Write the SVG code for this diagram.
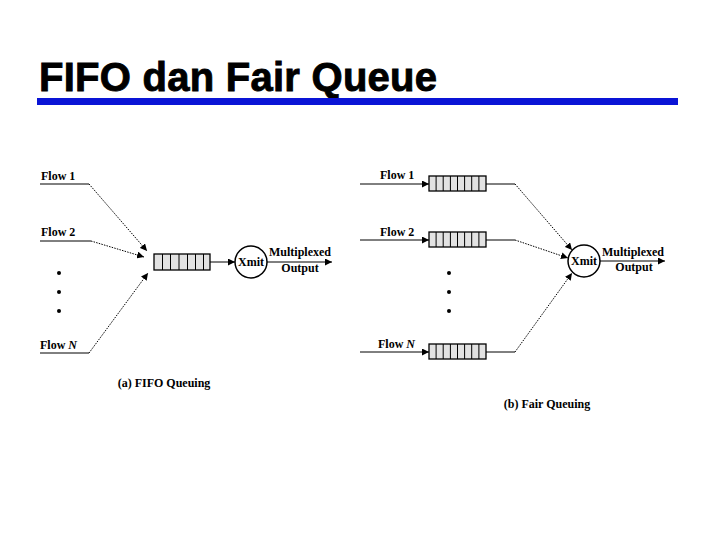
<svg xmlns="http://www.w3.org/2000/svg" width="720" height="540" viewBox="0 0 720 540">
<defs>
<marker id="ah" viewBox="0 0 10 10" refX="10" refY="5" markerWidth="7" markerHeight="7" markerUnits="userSpaceOnUse" orient="auto">
<path d="M0,0 L10,5 L0,10 z" fill="#000"/>
</marker>
<style>
.t{font-family:"Liberation Serif","Times New Roman",serif;font-weight:bold;font-size:12px;fill:#000}
.ln{fill:none;stroke:#000;stroke-width:1}
.dl{fill:none;stroke:#000;stroke-width:1;stroke-dasharray:1.5 1.2}
.q{fill:#e2e2e2;stroke:#000;stroke-width:1.3}
.cell{stroke:#000;stroke-width:1}
.xm{fill:#fff;stroke:#000;stroke-width:1.5}
</style>
</defs>
<rect width="720" height="540" fill="#fff"/>
<g id="title">
<text x="39" y="91" font-family="'Liberation Sans',Arial,sans-serif" font-weight="bold" font-size="40" fill="#000" stroke="#000" stroke-width="0.9" textLength="398" lengthAdjust="spacing">FIFO dan Fair Queue</text>
<rect x="37" y="98" width="641" height="7" fill="#0a14d6"/>
</g>

<!-- (a) FIFO -->
<g id="a-labels">
<text class="t" x="41" y="180">Flow 1</text>
<text class="t" x="41" y="236">Flow 2</text>
<text class="t" x="40" y="349">Flow <tspan font-style="italic">N</tspan></text>
<circle cx="59" cy="273" r="2"/>
<circle cx="59" cy="292" r="2"/>
<circle cx="59" cy="311" r="2"/>
<text class="t" x="164" y="387" text-anchor="middle">(a) FIFO Queuing</text>
</g>
<g id="a-queue">
<rect class="q" x="154" y="254" width="56" height="16"/>
<line class="cell" x1="162.5" y1="254" x2="162.5" y2="270"/>
<line class="cell" x1="170.5" y1="254" x2="170.5" y2="270"/>
<line class="cell" x1="179" y1="254" x2="179" y2="270"/>
<line class="cell" x1="187.5" y1="254" x2="187.5" y2="270"/>
<line class="cell" x1="195.5" y1="254" x2="195.5" y2="270"/>
<line class="cell" x1="203.5" y1="254" x2="203.5" y2="270"/>
</g>
<g id="a-xmit">
<circle class="xm" cx="251" cy="262" r="16"/>
<text class="t" x="251" y="266" text-anchor="middle">Xmit</text>
<text class="t" x="300" y="256" text-anchor="middle">Multiplexed</text>
<text class="t" x="300" y="272" text-anchor="middle">Output</text>
</g>
<g id="a-connectors">
<polyline class="ln" points="40,184 89,184"/>
<polyline class="dl" points="89,184 147,251" marker-end="url(#ah)"/>
<polyline class="ln" points="40,241 91,241"/>
<polyline class="dl" points="91,241 144,257" marker-end="url(#ah)"/>
<polyline class="ln" points="40,353 89,353"/>
<polyline class="dl" points="89,353 148,273" marker-end="url(#ah)"/>
<line class="ln" x1="210" y1="262" x2="235" y2="262" marker-end="url(#ah)"/>
<line class="ln" x1="267" y1="262" x2="332" y2="262" marker-end="url(#ah)"/>
</g>

<!-- (b) Fair -->
<g id="b-labels">
<text class="t" x="380" y="179">Flow 1</text>
<text class="t" x="380" y="236">Flow 2</text>
<text class="t" x="378" y="348">Flow <tspan font-style="italic">N</tspan></text>
<circle cx="449" cy="273" r="2"/>
<circle cx="449" cy="292" r="2"/>
<circle cx="449" cy="311" r="2"/>
<text class="t" x="547" y="408" text-anchor="middle">(b) Fair Queuing</text>
</g>
<g id="b-queue1">
<rect class="q" x="429" y="176" width="57" height="15"/>
<path class="cell" d="M436.1,176v15M443.2,176v15M450.4,176v15M457.5,176v15M464.6,176v15M471.7,176v15M478.9,176v15"/>
</g>
<g id="b-queue2">
<rect class="q" x="429" y="232" width="57" height="15"/>
<path class="cell" d="M436.1,232v15M443.2,232v15M450.4,232v15M457.5,232v15M464.6,232v15M471.7,232v15M478.9,232v15"/>
</g>
<g id="b-queueN">
<rect class="q" x="429" y="344" width="57" height="15"/>
<path class="cell" d="M436.1,344v15M443.2,344v15M450.4,344v15M457.5,344v15M464.6,344v15M471.7,344v15M478.9,344v15"/>
</g>
<g id="b-xmit">
<circle class="xm" cx="584" cy="261" r="16"/>
<text class="t" x="584" y="265" text-anchor="middle">Xmit</text>
<text class="t" x="633" y="256" text-anchor="middle">Multiplexed</text>
<text class="t" x="634" y="271" text-anchor="middle">Output</text>
</g>
<g id="b-connectors">
<line class="ln" x1="360" y1="184" x2="429" y2="184" marker-end="url(#ah)"/>
<line class="ln" x1="360" y1="240" x2="429" y2="240" marker-end="url(#ah)"/>
<line class="ln" x1="360" y1="352" x2="429" y2="352" marker-end="url(#ah)"/>
<polyline class="ln" points="486,184 515,184"/>
<polyline class="dl" points="515,184 572,250" marker-end="url(#ah)"/>
<polyline class="ln" points="486,240 515,240"/>
<polyline class="dl" points="515,240 568,258" marker-end="url(#ah)"/>
<polyline class="ln" points="486,352 515,352"/>
<polyline class="dl" points="515,352 572,273" marker-end="url(#ah)"/>
<line class="ln" x1="600" y1="261" x2="665" y2="261" marker-end="url(#ah)"/>
</g>
</svg>
